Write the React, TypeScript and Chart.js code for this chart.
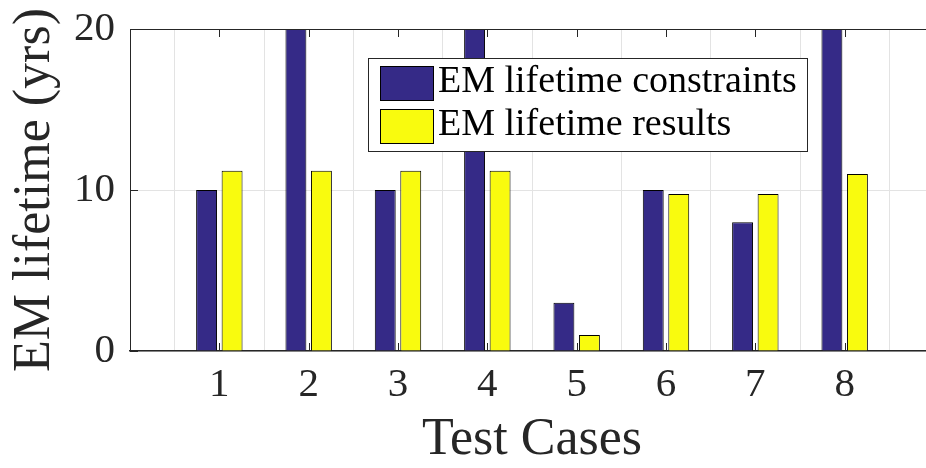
import React, { useEffect, useRef } from "react";
import { Chart, registerables } from "chart.js";
Chart.register(...registerables);

const categories = ["1", "2", "3", "4", "5", "6", "7", "8"];
const constraints = [10, 20, 10, 20, 3, 10, 8, 20];
const results = [11.2, 11.2, 11.2, 11.2, 1, 9.75, 9.75, 11];
const yTicks = [0, 10, 20];
const seriesNames = ["EM lifetime constraints", "EM lifetime results"];
const xTitle = "Test Cases";
const yTitle = "EM lifetime (yrs)";

const BLUE = "#352a87";
const YELLOW = "#f9fb0e";
const AXIS = "#262626";
const GRID = "#e3e3e3";
const FONT = "Liberation Serif, DejaVu Serif, Tinos, Times New Roman, serif";

const labels = ["", ...categories, ""];
const pad = (arr: number[]) => [null, ...arr, null];

const decor = {
  id: "decor",
  afterDatasetsDraw(chart: any) {
    const { ctx, chartArea: a, scales } = chart;
    const xs = scales.x;
    const ys = scales.y;
    ctx.save();
    ctx.strokeStyle = AXIS;
    ctx.lineWidth = 1;
    ctx.beginPath();
    ctx.moveTo(a.left, a.top + 0.5);
    ctx.lineTo(a.right, a.top + 0.5);
    ctx.stroke();
    const tl = 8;
    categories.forEach((_, i) => {
      const px = Math.round(xs.getPixelForValue(i + 1)) + 0.5;
      ctx.beginPath();
      ctx.moveTo(px, a.bottom);
      ctx.lineTo(px, a.bottom - tl);
      ctx.moveTo(px, a.top);
      ctx.lineTo(px, a.top + tl);
      ctx.stroke();
    });
    yTicks.forEach((v) => {
      const py = Math.round(ys.getPixelForValue(v)) + 0.5;
      ctx.beginPath();
      ctx.moveTo(a.left, py);
      ctx.lineTo(a.left + tl, py);
      ctx.stroke();
    });
    // legend
    const lx = a.left + 238;
    const ly = a.top + 29;
    const lw = 439;
    const lh = 93;
    ctx.fillStyle = "#fff";
    ctx.fillRect(lx, ly, lw, lh);
    ctx.strokeStyle = AXIS;
    ctx.lineWidth = 1;
    ctx.strokeRect(lx + 0.5, ly + 0.5, lw, lh);
    const colors = [BLUE, YELLOW];
    const rowsTop = [8, 51];
    const baselines = [34, 77];
    ctx.font = "38px " + FONT;
    ctx.textBaseline = "alphabetic";
    ctx.textAlign = "left";
    seriesNames.forEach((name, i) => {
      ctx.fillStyle = colors[i];
      ctx.fillRect(lx + 12, ly + rowsTop[i], 53, 34);
      ctx.strokeStyle = "#000";
      ctx.strokeRect(lx + 12.5, ly + rowsTop[i] + 0.5, 53, 34);
      ctx.fillStyle = "#000";
      ctx.fillText(name, lx + 70, ly + baselines[i]);
    });
    ctx.restore();
  },
};

export default function App() {
  const ref = useRef<HTMLCanvasElement>(null);
  useEffect(() => {
    document.body.style.overflow = "hidden";
    const chart = new Chart(ref.current as HTMLCanvasElement, {
      type: "bar",
      data: {
        labels,
        datasets: [
          {
            label: seriesNames[0],
            data: pad(constraints) as any,
            backgroundColor: BLUE,
            borderColor: "#000",
            borderWidth: 1,
            categoryPercentage: 0.571,
            barPercentage: 0.82,
          },
          {
            label: seriesNames[1],
            data: pad(results) as any,
            backgroundColor: YELLOW,
            borderColor: "#000",
            borderWidth: 1,
            categoryPercentage: 0.571,
            barPercentage: 0.82,
          },
        ],
      },
      options: {
        responsive: false,
        animation: false,
        layout: { padding: { top: 29, right: 16, left: 0, bottom: 0 } },
        plugins: { legend: { display: false }, tooltip: { enabled: false } },
        scales: {
          x: {
            offset: false,
            afterFit: (s: any) => {
              s.height = 117;
              s.paddingLeft = 0;
              s.paddingRight = 0;
            },
            grid: { color: GRID, drawTicks: false, tickLength: 0 },
            border: { color: AXIS, width: 1.5 },
            ticks: {
              autoSkip: false,
              maxRotation: 0,
              padding: 10,
              color: AXIS,
              font: { family: FONT, size: 41 },
              callback: (_v: any, i: number) => labels[i],
            },
            title: {
              display: true,
              text: xTitle,
              color: AXIS,
              font: { family: FONT, size: 52, lineHeight: 1.05 },
              padding: { top: 0, bottom: 0 },
            },
          },
          y: {
            min: 0,
            max: 20,
            afterFit: (s: any) => {
              s.width = 130;
              s.paddingTop = 0;
              s.paddingBottom = 0;
            },
            afterBuildTicks: (s: any) => {
              s.ticks = yTicks.map((v) => ({ value: v }));
            },
            grid: { color: GRID, drawTicks: false, tickLength: 0 },
            border: { color: AXIS, width: 1 },
            ticks: {
              padding: 15,
              color: AXIS,
              font: { family: FONT, size: 41 },
            },
            title: {
              display: true,
              text: yTitle,
              color: AXIS,
              font: { family: FONT, size: 52 },
              padding: { top: 4, bottom: 0 },
            },
          },
        },
      },
      plugins: [decor],
    });
    return () => chart.destroy();
  }, []);
  return (
    <div style={{ position: "fixed", left: 0, top: 0, width: 950, height: 468 }}>
      <canvas ref={ref} width={950} height={468} style={{ width: 950, height: 468 }} />
    </div>
  );
}
